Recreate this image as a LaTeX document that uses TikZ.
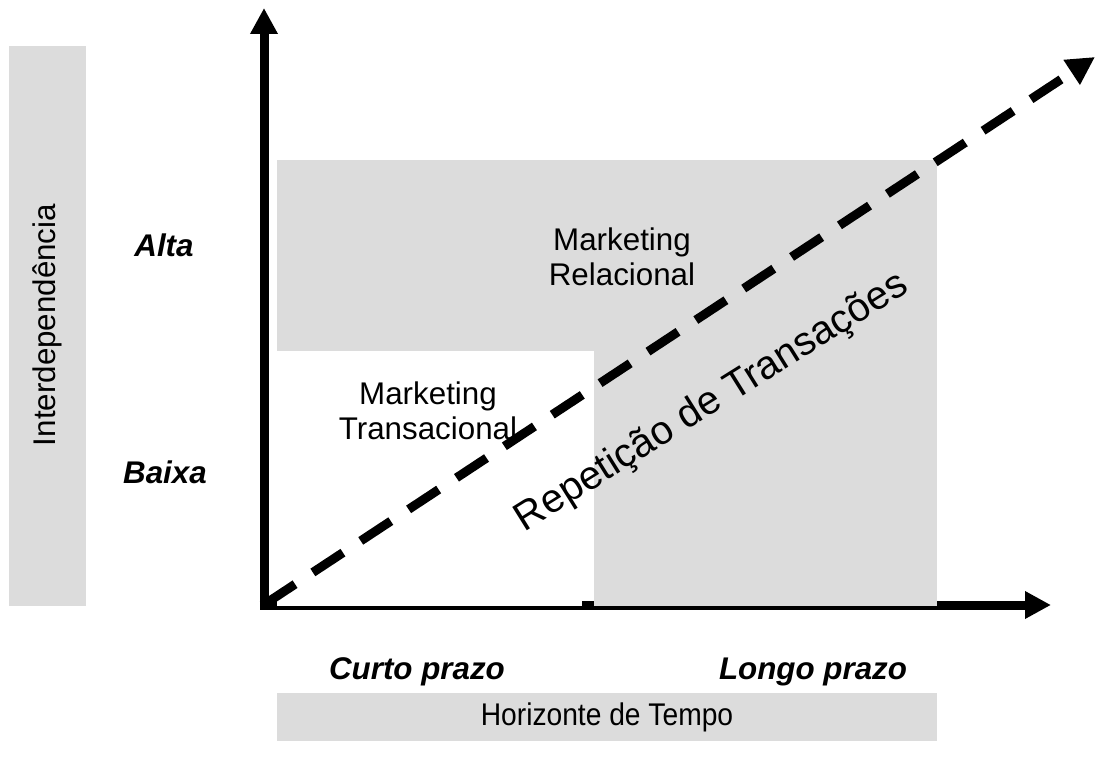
\documentclass[tikz,border=0pt]{standalone}
\usepackage{fontspec}
\setmainfont{Liberation Sans}
\usetikzlibrary{arrows.meta}
\definecolor{panel}{RGB}{220,220,220}
\tikzset{
  axis/.style={line width=6.75pt, -{Triangle[length=19.5pt,width=19.5pt]}},
  trend/.style={line width=6.75pt, dash pattern=on 27pt off 16pt, -{Triangle[length=21pt,width=21pt]}},
  lbl/.style={font=\fontsize{23.5}{26.5}\selectfont, align=center, inner sep=0pt},
  lvl/.style={font=\fontsize{23.5}{26.5}\selectfont\bfseries\itshape, inner sep=0pt},
}
\begin{document}
\begin{tikzpicture}[x=0.75pt, y=-0.75pt]
  \useasboundingbox (0,0) rectangle (1097,767);

  % side and bottom bands
  \fill[panel] (9,46) rectangle (86,606);
  \fill[panel] (277,693) rectangle (937,741);

  % axes
  \coordinate (origin) at (264,605);
  \coordinate (ybot) at (264,609.5);
  \coordinate (xstart) at (259.5,605);
  \coordinate (ytip) at (264,8);
  \coordinate (xtip) at (1051,605);
  \draw[axis] (ybot) -- (ytip);
  \draw[axis] (xstart) -- (xtip);

  % regions
  \fill[panel] (277,160) rectangle (937,351);
  \fill[panel] (594,351) rectangle (937,606);
  \fill[white] (277,351) rectangle (582,606);

  % trend
  \coordinate (tstart) at (265,604);
  \coordinate (ttip) at (1095,57);
  \draw[trend] (tstart) -- (ttip);

  % labels
  \node[lbl, rotate=90] (interdep) at (47,325) {Interdependência};
  \node[lbl, xscale=0.9] (horiz) at (607,717) {Horizonte de Tempo};
  \node[lvl] (alta) at (164,245) {Alta};
  \node[lvl] (baixa) at (165,472) {Baixa};
  \node[lvl] (curto) at (417,672) {Curto prazo};
  \node[lvl] (longo) at (813,672) {Longo prazo};
  \node[lbl] (mrel) at (622,257) {Marketing\\Relacional};
  \node[lbl] (mtrans) at (428,411) {Marketing\\Transacional};
  \node[lbl, font=\fontsize{30}{36}\selectfont, rotate=32] (repet) at (712,403) {Repetição de Transações};
\end{tikzpicture}
\end{document}
